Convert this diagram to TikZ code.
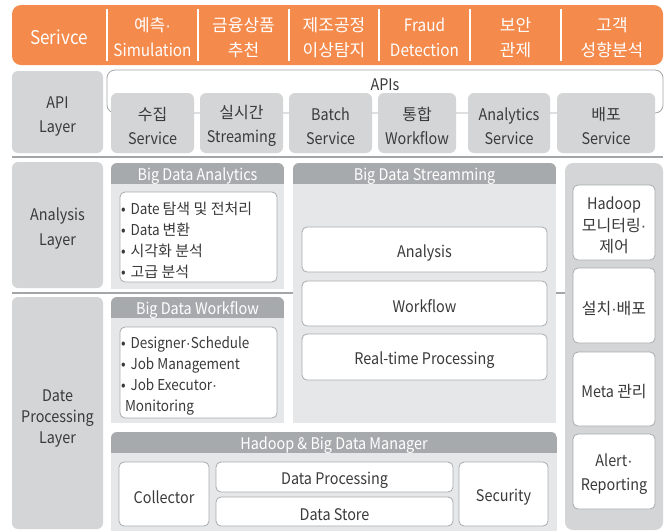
\documentclass[tikz,border=0pt]{standalone}
\usepackage{fontspec}
\setmainfont{Noto Sans CJK KR}[FakeStretch=0.9]
\newfontfamily\krfont{Noto Sans CJK KR}
\newfontfamily\dotfont{Liberation Sans}
\newcommand\kr[1]{{\krfont #1}}
\newcommand\md{{\dotfont\char"00B7}}
\newcommand\bul{•\hspace{5pt}}
\definecolor{svcorange}{HTML}{F48A4B}
\definecolor{layergray}{HTML}{D3D5D6}
\definecolor{panelgray}{HTML}{E6E7E8}
\definecolor{hdrgray}{HTML}{A7AAAC}
\definecolor{linegray}{HTML}{A3A6A8}
\definecolor{boxline}{HTML}{A8ABAD}
\definecolor{txt}{HTML}{3A3A3A}
\tikzset{
  base/.style={inner sep=0pt, outer sep=0pt, align=center, text=txt, font=\fontsize{16}{24}\selectfont},
  layerbox/.style={base, fill=layergray, rounded corners=6pt},
  svcbox/.style={base, fill=layergray, rounded corners=6pt},
  wbox/.style={base, fill=white, draw=boxline, line width=0.8pt, rounded corners=5pt},
  hdrtext/.style={base, text=white, yshift=-2pt},
  toptext/.style={base, text=white, yshift=-1.5pt, font=\fontsize{17}{25}\selectfont},
  bullets/.style={base, align=left, anchor=west, yshift=-2pt, font=\fontsize{15}{21}\selectfont},
  sepline/.style={draw=linegray, line width=1.2pt},
  lbl/.style={base, yshift=-3pt},
}
% box: style, text style, name, cx, cy, w, h, text
\newcommand\bx[8]{%
  \node[#1, minimum width=#6pt, minimum height=#7pt] (#3) at (#4,#5) {};
  \node[lbl, #2] (#3-t) at (#3.center) {#8};}
\newcommand\mypanel[5]{%
  \begin{scope}
    \clip[rounded corners=6pt] (#1,#2) rectangle (#3,{#4+12});
    \fill[panelgray] (#1,#2) rectangle (#3,#4);
    \fill[hdrgray] (#1,#2) rectangle (#3,#5);
  \end{scope}}
\begin{document}
\begin{tikzpicture}[x=1pt,y=-1pt]
\useasboundingbox (0,0) rectangle (671,531);
\fill[white] (0,0) rectangle (671,531);

% ---- Service bar
\node[base, fill=svcorange, rounded corners=9pt, minimum width=651pt, minimum height=60pt] (bar) at (337.5,35) {};
\foreach \xx in {107,198,289,379,470,561}
  \draw[white, line width=1.2pt] (\xx,9) -- (\xx,61);
\node[toptext, font=\fontsize{19}{25}\selectfont] (s0) at (59,36) {Serivce};
\node[toptext] (s1) at (152.5,36) {\kr{예측}\md\\Simulation};
\node[toptext] (s2) at (243.5,36) {\kr{금융상품}\\\kr{추천}};
\node[toptext] (s3) at (334,36) {\kr{제조공정}\\\kr{이상탐지}};
\node[toptext] (s4) at (424.5,36) {Fraud\\Detection};
\node[toptext] (s5) at (515.5,36) {\kr{보안}\\\kr{관제}};
\node[toptext] (s6) at (612,36) {\kr{고객}\\\kr{성향분석}};

% ---- separators
\coordinate (sepAl) at (12,157); \coordinate (sepAr) at (663,157);
\coordinate (sepBl) at (12,293); \coordinate (sepBr) at (663,293);
\draw[sepline] (sepAl) -- (sepAr);
\draw[sepline] (sepBl) -- (sepBr);

% ---- API layer
\bx{layerbox}{yshift=-2pt}{api}{57.5}{112}{91}{82}{API\\Layer}
\node[base, draw=linegray, line width=0.8pt, fill=white, rounded corners=8pt, minimum width=556pt, minimum height=43pt] (apis) at (385,91.5) {};
\node[lbl] (apistxt) at (385,82) {APIs};
\bx{svcbox}{}{a1}{152.5}{123}{83}{60}{\kr{수집}\\Service}
\bx{svcbox}{}{a2}{241.5}{123}{83}{60}{\kr{실시간}\\Streaming}
\bx{svcbox}{}{a3}{330.5}{123}{83}{60}{Batch\\Service}
\bx{svcbox}{}{a4}{417}{123}{78}{60}{\kr{통합}\\Workflow}
\bx{svcbox}{}{a5}{509}{123}{82}{60}{Analytics\\Service}
\bx{svcbox}{}{a6}{606}{123}{98}{60}{\kr{배포}\\Service}

% ---- Analysis / Processing layer labels
\bx{layerbox}{font=\fontsize{16}{25}\selectfont}{ana}{57.5}{225}{91}{126}{Analysis\\Layer}
\bx{layerbox}{yshift=-2pt, font=\fontsize{16}{21}\selectfont}{dpl}{57.5}{413}{91}{232}{Date\\Processing\\Layer}

% Big Data Analytics
\mypanel{111}{163}{284}{289}{184}
\node[hdrtext] (hAna) at (197.5,174) {Big Data Analytics};
\node[wbox, minimum width=157pt, minimum height=90pt] (anaBox) at (198.5,237) {};
\node[bullets] (anaTxt) at (121,238.5) {\bul Date \kr{탐색 및 전처리}\\\bul Data \kr{변환}\\\bul \kr{시각화 분석}\\\bul \kr{고급 분석}};

% Big Data Workflow
\mypanel{111}{297}{284}{423}{318}
\node[hdrtext] (hWf) at (197.5,308) {Big Data Workflow};
\node[wbox, minimum width=157pt, minimum height=91pt] (wfBox) at (198.5,372.5) {};
\node[bullets] (wfTxt) at (121,374) {\bul Designer\md Schedule\\\bul Job Management\\\bul Job Executor\md\\\hspace{4pt}Monitoring};

% Big Data Streamming
\mypanel{293}{163}{556}{423}{184}
\node[hdrtext] (hSt) at (424.5,174) {Big Data Streamming};
\bx{wbox}{}{stA}{424.5}{249.5}{245}{45}{Analysis}
\bx{wbox}{}{stW}{424.5}{303.5}{245}{45}{Workflow}
\bx{wbox}{}{stR}{424.5}{357}{245}{46}{Real-time Processing}

% Hadoop & Big Data Manager
\mypanel{111}{432}{557}{531}{453}
\node[hdrtext] (hMg) at (334,443) {Hadoop \& Big Data Manager};
\bx{wbox}{}{mCol}{164}{494}{90}{64}{Collector}
\bx{wbox}{}{mProc}{334.5}{477}{237}{30}{Data Processing}
\bx{wbox}{}{mStore}{334.5}{511.5}{237}{29}{Data Store}
\bx{wbox}{}{mSec}{503.5}{494}{89}{64}{Security}

% ---- Right column
\node[layerbox, rounded corners=8pt, minimum width=98pt, minimum height=367pt] (rcol) at (614,346.5) {};
\bx{wbox}{font=\fontsize{16}{21.5}\selectfont}{r1}{614}{222.5}{82}{75}{Hadoop\\\kr{모니터링}\md\\\kr{제어}}
\bx{wbox}{}{r2}{614}{305.5}{82}{75}{\kr{설치}\md\kr{배포}}
\bx{wbox}{}{r3}{614}{389}{82}{74}{Meta \kr{관리}}
\bx{wbox}{}{r4}{614}{471.5}{82}{75}{Alert\md\\Reporting}
\end{tikzpicture}
\end{document}
